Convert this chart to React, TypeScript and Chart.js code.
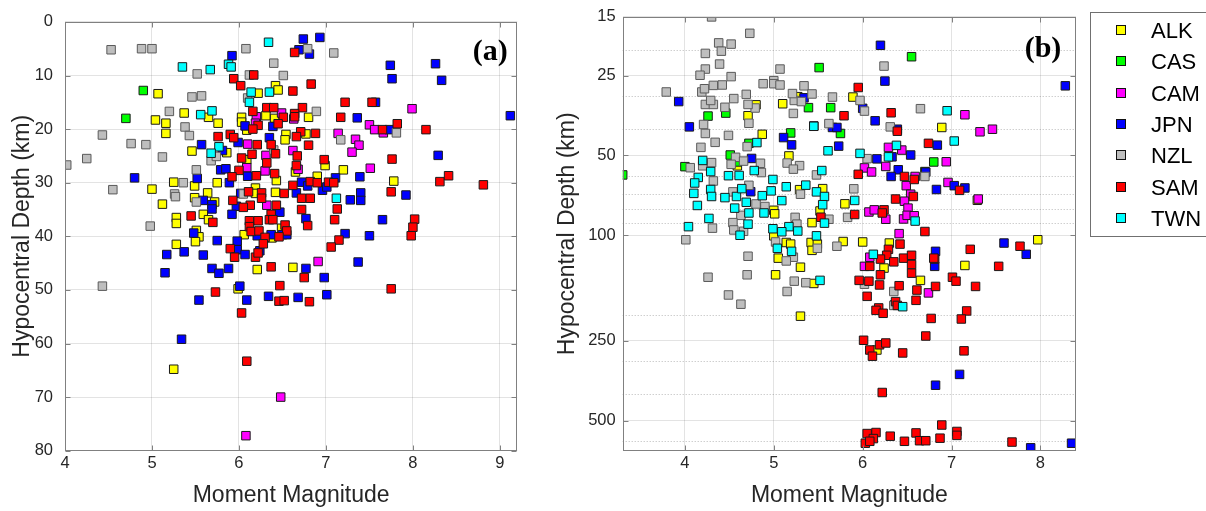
import React, { useEffect, useRef } from "react";
import { Chart, registerables } from "chart.js";

Chart.register(...registerables);

// ---------- categories & style ----------
const REGIONS = ["ALK", "CAS", "CAM", "JPN", "NZL", "SAM", "TWN"];
const FILL = ["#ffff00", "#00ff00", "#ff00ff", "#0000ff", "#bebebe", "#ff0000", "#00ffff"];
const EDGE = ["#1a1a1a", "#1a1a1a", "#1a1a1a", "#1a1a1a", "#5a5a5a", "#1a1a1a", "#1a1a1a"];

// ---------- panel (a): [Mw, depth km] ----------
const ALK_A: [number, number][] = [
  [5.07, 13.4], [6.42, 11.9], [6.45, 12.7], [6.22, 13.3], [5.37, 17.0], [5.04, 18.3], [5.16, 18.9], [5.16, 20.8],
  [5.65, 17.8], [5.76, 18.9], [6.03, 17.8], [6.03, 18.7], [6.31, 17.5], [6.41, 18.0], [6.8, 17.8], [6.54, 21.0],
  [6.53, 22.0], [6.77, 20.9], [5.46, 24.1], [5.86, 24.4], [6.09, 25.7], [5.25, 29.9], [5.49, 30.6], [5.75, 30.0],
  [6.43, 29.6], [5.0, 31.2], [5.64, 31.9], [5.49, 32.8], [6.19, 31.0], [6.19, 32.0], [6.42, 31.8], [5.12, 34.0],
  [5.72, 33.6], [5.28, 36.5], [5.28, 37.6], [5.59, 35.9], [5.65, 36.9], [5.51, 38.9], [5.54, 40.1], [5.5, 41.0],
  [6.06, 39.7], [5.28, 41.5], [6.38, 40.3], [6.49, 38.5], [6.21, 46.2], [6.62, 45.8], [5.99, 49.8], [5.25, 64.8],
  [6.9, 28.8], [6.99, 26.8], [7.2, 27.6], [7.78, 29.7], [6.65, 28.0], [6.09, 20.2],
];
const CAS_A: [number, number][] = [[4.9, 12.8], [4.7, 18.0]];
const CAM_A: [number, number][] = [
  [6.49, 17.0], [6.2, 17.7], [6.19, 18.9], [6.1, 22.8], [6.31, 24.9], [6.09, 27.2], [6.3, 27.8], [6.68, 27.5],
  [6.62, 24.0], [6.32, 34.2], [6.63, 18.1], [7.14, 20.8], [7.34, 21.9], [7.38, 23.0], [7.3, 24.3], [7.51, 27.3],
  [7.5, 19.2], [7.56, 20.1], [7.66, 20.7], [7.99, 16.2], [6.91, 44.7], [6.48, 70.0], [6.08, 77.2],
];
const JPN_A: [number, number][] = [
  [6.74, 3.2], [6.93, 2.9], [6.69, 5.2], [6.81, 6.0], [5.92, 6.3], [7.74, 8.1], [8.26, 7.8], [7.76, 10.6],
  [8.33, 10.9], [7.57, 15.0], [9.12, 17.5], [7.36, 17.9], [7.73, 20.1], [6.07, 19.4], [6.39, 19.5], [5.99, 22.5],
  [5.57, 22.9], [6.35, 21.6], [5.81, 24.0], [8.29, 24.9], [4.8, 29.1], [5.52, 29.2], [5.79, 27.6], [5.85, 27.4],
  [5.89, 30.0], [6.1, 28.8], [6.02, 32.0], [5.59, 33.3], [5.69, 34.1], [5.69, 34.9], [5.97, 34.4], [5.92, 35.9],
  [6.47, 35.5], [6.72, 29.9], [6.79, 30.6], [6.96, 31.4], [7.01, 30.8], [7.11, 29.1], [6.66, 31.9], [7.28, 33.2],
  [7.4, 31.9], [7.4, 33.3], [7.39, 28.9], [7.92, 32.3], [7.65, 36.9], [6.77, 36.7], [5.48, 39.4], [5.75, 40.8],
  [5.98, 40.9], [5.98, 42.5], [6.07, 43.4], [6.21, 39.9], [6.37, 39.7], [6.5, 39.7], [6.55, 39.7], [7.22, 39.5],
  [7.5, 39.9], [7.37, 44.8], [5.17, 43.4], [5.37, 42.9], [5.59, 43.5], [5.15, 46.8], [5.69, 46.0], [5.77, 46.9],
  [5.88, 46.0], [6.77, 46.0], [6.98, 47.7], [6.01, 49.3], [5.54, 51.9], [6.09, 51.9], [6.34, 51.2], [6.68, 51.4],
  [7.01, 50.9], [5.34, 59.2], [6.24, 42.7],
];
const NZL_A: [number, number][] = [
  [4.53, 5.2], [4.88, 5.0], [5.0, 5.0], [6.08, 5.0], [6.79, 5.0], [7.09, 5.8], [6.4, 7.7], [5.52, 9.7],
  [6.12, 9.9], [6.51, 10.0], [5.46, 14.0], [5.57, 13.8], [6.1, 14.2], [5.2, 16.7], [6.89, 16.7], [5.38, 19.6],
  [5.43, 21.2], [4.43, 21.1], [4.76, 22.7], [4.93, 22.9], [7.17, 22.0], [7.81, 20.7], [4.25, 25.5], [5.12, 25.2],
  [4.02, 26.7], [5.68, 25.9], [5.74, 25.1], [5.51, 27.6], [5.36, 30.0], [4.55, 31.3], [5.26, 32.1], [5.27, 32.6],
  [5.51, 33.6], [6.05, 32.1], [4.98, 38.1], [4.43, 49.3], [6.4, 23.9],
];
const SAM_A: [number, number][] = [
  [6.64, 5.7], [5.94, 10.6], [6.02, 11.9], [6.17, 9.9], [6.62, 12.9], [6.83, 11.6], [7.22, 15.0], [7.53, 15.0],
  [6.32, 16.0], [6.4, 16.0], [6.73, 16.0], [6.16, 16.7], [6.51, 17.8], [6.64, 17.1], [6.64, 17.7], [7.17, 17.8],
  [6.22, 19.3], [6.45, 19.0], [6.16, 20.0], [7.65, 20.1], [7.82, 19.0], [8.15, 20.1], [5.76, 21.4], [5.9, 21.0],
  [5.94, 21.6], [6.21, 22.9], [6.37, 22.9], [6.71, 20.5], [6.66, 21.4], [6.88, 20.8], [6.8, 23.0], [6.42, 24.6],
  [6.15, 24.7], [6.67, 25.0], [6.03, 25.4], [6.32, 26.3], [6.66, 26.8], [6.98, 25.7], [7.76, 25.6], [6.41, 28.3],
  [6.0, 27.7], [5.92, 28.9], [6.2, 28.7], [6.62, 30.5], [6.82, 29.8], [6.9, 30.0], [7.03, 29.9], [7.09, 30.0],
  [8.31, 29.8], [8.41, 28.7], [8.81, 30.4], [7.75, 31.7], [5.93, 33.3], [6.11, 31.7], [6.26, 31.9], [6.52, 32.0],
  [6.26, 32.9], [6.13, 34.2], [6.05, 34.6], [6.43, 34.2], [6.72, 32.9], [6.82, 32.9], [6.72, 35.0], [7.13, 34.9],
  [5.45, 36.2], [5.7, 37.4], [6.12, 37.1], [6.22, 37.1], [6.37, 35.9], [6.35, 36.9], [6.39, 36.9], [6.12, 38.2],
  [6.14, 39.1], [6.23, 39.0], [6.53, 37.9], [6.55, 39.0], [6.79, 38.0], [7.1, 36.9], [8.02, 36.8], [8.0, 38.3],
  [7.98, 39.9], [6.3, 40.2], [6.28, 41.4], [6.46, 40.1], [7.15, 40.7], [7.06, 42.0], [5.9, 42.3], [5.95, 43.9],
  [6.19, 43.9], [6.22, 43.1], [6.37, 45.7], [6.75, 47.7], [7.75, 49.8], [5.73, 50.4], [6.47, 49.2], [6.46, 52.1],
  [6.52, 52.0], [6.81, 52.2], [6.03, 54.3], [6.09, 63.3],
];
const TWN_A: [number, number][] = [
  [6.34, 3.8], [5.35, 8.4], [5.67, 8.9], [5.88, 7.9], [5.91, 8.4], [6.14, 13.1], [6.35, 13.1], [6.12, 15.0],
  [5.69, 16.6], [5.56, 17.3], [5.77, 23.3], [5.68, 24.5], [7.12, 32.9],
];

// ---------- panel (b): [Mw, depth km] ----------
const ALK_B: [number, number][] = [
  [5.1, 31.9], [5.27, 30.0], [5.89, 30.1], [4.71, 35.4], [4.8, 32.2], [4.87, 41.6], [6.89, 39.2], [5.17, 50.2],
  [4.59, 54.7], [5.29, 67.3], [5.55, 66.7], [5.8, 76.1], [5.52, 81], [5.0, 80.5], [5.01, 83], [5.43, 89.6],
  [7.29, 73.8], [5.0, 100.5], [5.14, 106.5], [5.19, 108], [5.42, 106.5], [5.49, 108], [5.43, 114], [5.05, 122],
  [5.78, 105.6], [6.0, 106], [6.3, 107], [5.3, 132], [7.15, 130], [7.97, 104], [5.02, 141], [5.45, 152],
  [6.65, 148], [5.3, 202], [6.24, 133], [6.16, 271],
];
const CAS_B: [number, number][] = [
  [5.51, 23.3], [6.55, 21.2], [5.39, 33.0], [5.64, 33.0], [4.46, 34.6], [4.26, 35.5], [5.19, 41.1], [5.75, 41.3],
  [4.72, 45.0], [4.51, 49.8], [4.0, 55.1], [3.3, 59.2], [4.59, 52.9], [6.8, 52.9], [6.7, 57.5],
];
const CAM_B: [number, number][] = [
  [7.15, 35.1], [7.32, 40.7], [7.46, 39.8], [6.29, 46.6], [6.44, 47.7], [6.02, 55.7], [6.1, 57.7], [6.26, 55.0],
  [6.94, 52.8], [6.59, 60.0], [6.49, 65.0], [6.96, 63.2], [6.54, 70.0], [6.47, 74.4], [7.3, 73.0], [6.07, 81.7],
  [6.13, 80.2], [6.51, 79.0], [6.26, 87], [6.46, 86.8], [6.5, 84.1], [6.58, 84.4], [6.41, 98.6], [6.08, 121],
  [6.02, 131], [6.74, 165], [6.36, 183],
];
const JPN_B: [number, number][] = [
  [6.2, 19.2], [6.25, 26.2], [8.28, 27.3], [3.93, 31.3], [5.34, 30.3], [6.0, 33.2], [6.14, 37.0], [4.05, 39.0],
  [5.45, 38.7], [5.66, 39.2], [5.71, 39.2], [5.11, 42.8], [5.2, 45.6], [5.73, 46.1], [6.39, 39.8], [6.84, 45.7],
  [6.54, 49.8], [6.16, 51.5], [6.33, 50.6], [4.75, 51.3], [6.4, 56.6], [6.32, 60.0], [6.71, 57.8], [6.83, 67.2],
  [7.03, 65.0], [7.15, 66.3], [4.74, 68.5], [7.59, 107], [7.84, 118], [6.82, 115], [6.81, 131], [7.09, 335],
  [6.82, 368], [7.89, 634], [8.35, 609],
];
const NZL_B: [number, number][] = [
  [4.3, 15.0], [4.73, 17.3], [4.38, 18.8], [4.52, 19.0], [4.23, 20.6], [4.41, 20.2], [4.39, 22.6], [4.23, 23.6],
  [4.17, 24.9], [4.52, 25.2], [5.07, 23.6], [6.24, 23.0], [3.79, 28.8], [4.19, 28.8], [4.22, 28.0], [4.32, 27.2],
  [4.42, 27.1], [4.88, 26.8], [5.0, 26.1], [5.0, 26.8], [5.07, 27.1], [5.34, 27.3], [5.43, 29.3], [5.66, 30.1],
  [5.23, 31.0], [5.31, 31.3], [5.21, 29.2], [4.69, 29.4], [4.55, 30.5], [4.23, 32.1], [4.32, 32.1], [4.29, 31.0],
  [4.45, 32.9], [4.79, 33.1], [4.71, 32.1], [5.22, 34.7], [5.97, 31.0], [6.02, 34.0], [6.65, 33.3], [4.21, 38.2],
  [4.23, 41.3], [4.49, 42.0], [4.34, 44.6], [4.18, 46.6], [4.72, 37.8], [4.7, 46.3], [5.62, 37.9], [6.31, 39.0],
  [6.05, 51.4], [5.15, 53.4], [5.29, 54.6], [5.22, 56.3], [4.57, 50.8], [4.52, 54.0], [4.3, 53.2], [4.2, 54.7],
  [4.06, 55.6], [4.85, 53.5], [4.86, 58.0], [4.66, 52.5], [5.48, 59.2], [4.32, 62.4], [4.72, 64.8], [4.54, 68.6],
  [5.9, 66.8], [5.3, 70.0], [4.8, 76.2], [4.9, 77.9], [4.63, 84.1], [4.54, 89.6], [5.24, 85.6], [5.26, 90.8],
  [5.83, 85.6], [5.62, 87], [4.31, 94], [4.55, 95.5], [4.66, 96.6], [4.01, 104], [5.02, 106], [5.22, 121],
  [5.14, 125], [4.71, 120], [5.49, 112], [5.71, 110], [4.26, 144], [4.7, 141], [5.23, 149], [5.36, 151],
  [5.15, 163], [4.49, 168], [4.63, 182], [6.02, 153], [6.35, 163], [6.35, 184], [6.7, 60.0],
];
const SAM_B: [number, number][] = [
  [5.95, 27.7], [5.79, 35.4], [6.32, 34.5], [6.39, 40.5], [6.74, 45.0], [5.95, 58.9], [6.47, 60.0], [6.58, 61.6],
  [7.09, 67.7], [6.37, 73.0], [6.57, 71.4], [6.24, 80.2], [6.22, 82.4], [5.91, 83.5], [5.53, 85.5], [6.7, 96.8],
  [6.42, 108], [7.21, 113], [7.77, 110], [7.53, 131], [6.29, 113], [6.27, 119], [6.2, 123], [6.35, 126],
  [6.46, 122], [6.55, 119], [6.55, 129], [6.55, 139], [6.81, 123], [7.01, 144], [7.05, 149], [7.27, 156],
  [6.08, 131], [5.96, 148], [6.07, 149], [6.19, 154], [6.2, 141], [6.41, 155], [6.61, 161], [6.6, 176],
  [6.82, 156], [6.05, 170], [6.37, 178], [6.39, 184], [6.18, 188], [6.15, 192], [6.23, 197], [6.77, 206],
  [7.17, 193], [7.11, 207], [6.71, 240], [6.01, 249], [6.08, 271], [6.11, 286], [6.19, 259], [6.26, 255],
  [6.45, 278], [7.14, 273], [6.22, 392], [6.89, 520], [6.05, 560], [6.15, 555], [6.12, 585], [6.03, 609],
  [6.08, 599], [6.31, 573], [6.47, 599], [6.6, 557], [6.64, 596], [6.71, 596], [6.87, 583], [7.06, 550],
  [7.06, 569], [7.68, 603], [6.8, 122],
];
const TWN_B: [number, number][] = [
  [6.95, 33.9], [7.03, 44.1], [6.38, 45.8], [6.29, 50.6], [5.97, 49.1], [5.61, 48.0], [5.45, 38.8], [5.54, 57],
  [4.99, 61.6], [5.14, 65.6], [5.36, 64.7], [5.48, 68.6], [5.57, 71.4], [5.55, 76.7], [4.97, 68], [5.09, 74],
  [5.91, 73.9], [5.57, 90], [5.17, 92.8], [5.27, 96.4], [5.09, 97], [4.99, 94.5], [5.48, 100.5], [5.04, 112],
  [5.2, 115], [5.52, 148], [6.12, 118], [6.45, 186], [6.59, 88.4], [4.81, 44.7], [4.2, 52.2], [4.29, 57.5],
  [4.49, 59.6], [4.61, 59.5], [4.78, 57], [4.15, 60.5], [4.11, 63.5], [4.1, 69.5], [4.29, 67.2], [4.3, 71.4],
  [4.14, 77.2], [4.45, 72.1], [4.58, 71.4], [4.56, 79], [4.69, 75.1], [4.87, 70.9], [4.89, 82.4], [4.72, 82.4],
  [4.64, 66.7], [4.27, 86.4], [4.04, 92.8], [4.62, 100], [4.71, 90.8],
];

const PANEL_A = [ALK_A, CAS_A, CAM_A, JPN_A, NZL_A, SAM_A, TWN_A];
const PANEL_B = [ALK_B, CAS_B, CAM_B, JPN_B, NZL_B, SAM_B, TWN_B];

// ---------- axes ----------
const X_TICKS_A = [4, 5, 6, 7, 8, 9];
const Y_TICKS_A = [0, 10, 20, 30, 40, 50, 60, 70, 80];
const X_TICKS_B = [4, 5, 6, 7, 8];
const Y_TICKS_B = [15, 25, 50, 100, 250, 500];
const Y_MINOR_B = [20, 30, 40, 60, 70, 80, 90, 200, 300, 400, 600];
const X_TITLE = "Moment Magnitude";
const Y_TITLE = "Hypocentral Depth (km)";

const FONT = '"Liberation Sans", Arial, Helvetica, sans-serif';
const TEXT = "#262626";
const AXIS = "#808080";
const GRID = "rgba(0,0,0,0.11)";

function makeDatasets(series: [number, number][][]) {
  return series.map((pts, i) => ({
    label: REGIONS[i],
    data: pts.map(([x, y]) => ({ x, y })),
    pointStyle: "rect",
    pointRadius: 6,
    pointBorderWidth: 1,
    backgroundColor: FILL[i],
    borderColor: EDGE[i],
    borderWidth: 1,
    showLine: false,
    order: REGIONS.length - i,
  }));
}

const framePlugin = {
  id: "frame",
  afterDraw(chart: any, _args: any, opts: any) {
    const { ctx, chartArea: a } = chart;
    const xs = chart.scales.x;
    const ys = chart.scales.y;
    ctx.save();
    ctx.strokeStyle = AXIS;
    ctx.lineWidth = 1;
    const L = Math.round(a.left) + 0.5;
    const R = Math.round(a.right) - 0.5;
    const T = Math.round(a.top) + 0.5;
    const B = Math.round(a.bottom) - 0.5;
    ctx.strokeRect(L, T, R - L, B - T);
    const tl = 5;
    ctx.beginPath();
    xs.ticks.forEach((t: any) => {
      const p = Math.round(xs.getPixelForValue(t.value)) + 0.5;
      ctx.moveTo(p, B);
      ctx.lineTo(p, B - tl);
      ctx.moveTo(p, T);
      ctx.lineTo(p, T + tl);
    });
    ys.ticks.forEach((t: any) => {
      const p = Math.round(ys.getPixelForValue(t.value)) + 0.5;
      ctx.moveTo(L, p);
      ctx.lineTo(L + tl, p);
      ctx.moveTo(R, p);
      ctx.lineTo(R - tl, p);
    });
    ctx.stroke();
    if (opts && opts.label) {
      ctx.fillStyle = "#000";
      ctx.font = 'bold 30px "Liberation Serif", "Times New Roman", serif';
      ctx.textAlign = "center";
      ctx.textBaseline = "middle";
      ctx.fillText(opts.label, a.right - opts.dx, a.top + opts.dy);
    }
    ctx.restore();
  },
};

const legendPlugin = {
  id: "boxLegend",
  afterDraw(chart: any, _args: any, opts: any) {
    if (!opts || !opts.show) return;
    const { ctx } = chart;
    const { left, top, bottom, markX, textX, firstY, step } = opts;
    ctx.save();
    ctx.fillStyle = "#ffffff";
    ctx.fillRect(left, top, chart.width - left + 2, bottom - top);
    ctx.strokeStyle = "#707070";
    ctx.lineWidth = 1;
    ctx.strokeRect(left + 0.5, top + 0.5, chart.width, bottom - top);
    ctx.font = `22px ${FONT}`;
    ctx.textBaseline = "middle";
    ctx.textAlign = "left";
    chart.data.datasets.forEach((ds: any, i: number) => {
      const cy = Math.round(firstY + i * step);
      ctx.fillStyle = ds.backgroundColor;
      ctx.fillRect(markX - 4, cy - 4, 8, 8);
      ctx.strokeStyle = "#111";
      ctx.strokeRect(markX - 4.5, cy - 4.5, 9, 9);
      ctx.fillStyle = "#000";
      ctx.fillText(ds.label, textX, cy + 1.5);
    });
    ctx.restore();
  },
};

function tickFont() {
  return { size: 16.5, family: FONT };
}
function titleFont() {
  return { size: 23, family: FONT };
}

function configA(): any {
  return {
    type: "scatter",
    data: { datasets: makeDatasets(PANEL_A) },
    plugins: [framePlugin],
    options: {
      responsive: false,
      animation: false,
      events: [],
      layout: { padding: { left: 0, top: 12.3, right: 22.7, bottom: 0 } },
      plugins: {
        legend: { display: false },
        tooltip: { enabled: false },
        frame: { label: "(a)", dx: 27, dy: 30 },
      },
      scales: {
        x: {
          type: "linear",
          min: 4,
          max: 9.2,
          afterBuildTicks: (s: any) => {
            s.ticks = X_TICKS_A.map((v) => ({ value: v }));
          },
          afterFit: (s: any) => {
            s.height = 60.3;
          },
          ticks: { padding: 3, color: TEXT, font: tickFont(), autoSkip: false, maxRotation: 0, callback: (v: any) => String(v) },
          grid: { color: GRID, lineWidth: 1, drawTicks: false },
          border: { display: false },
          title: { display: true, text: X_TITLE, color: TEXT, font: titleFont(), padding: { top: 0, bottom: 2 } },
        },
        y: {
          type: "linear",
          reverse: true,
          min: 0,
          max: 80,
          afterBuildTicks: (s: any) => {
            s.ticks = Y_TICKS_A.map((v) => ({ value: v }));
          },
          afterFit: (s: any) => {
            s.width = 65;
          },
          ticks: { padding: 12, color: TEXT, font: tickFont(), autoSkip: false, callback: (v: any) => String(v) },
          grid: { color: GRID, lineWidth: 1, drawTicks: false },
          border: { display: false },
          title: { display: true, text: Y_TITLE, color: TEXT, font: titleFont(), padding: { top: 9, bottom: 0 } },
        },
      },
    },
  };
}

function configB(): any {
  return {
    type: "scatter",
    data: { datasets: makeDatasets(PANEL_B) },
    plugins: [framePlugin, legendPlugin],
    options: {
      responsive: false,
      animation: false,
      events: [],
      layout: { padding: { left: 0, top: 12.3, right: 130, bottom: 0 } },
      plugins: {
        legend: { display: false },
        tooltip: { enabled: false },
        frame: { label: "(b)", dx: 33, dy: 32 },
        boxLegend: { show: true, left: 550, top: 12, bottom: 236, markX: 581, textX: 611, firstY: 30, step: 31.3 },
      },
      scales: {
        x: {
          type: "linear",
          min: 3.3,
          max: 8.4,
          afterBuildTicks: (s: any) => {
            s.ticks = X_TICKS_B.map((v) => ({ value: v }));
          },
          afterFit: (s: any) => {
            s.height = 60.3;
          },
          ticks: { padding: 3, color: TEXT, font: tickFont(), autoSkip: false, maxRotation: 0, callback: (v: any) => String(v) },
          grid: { color: GRID, lineWidth: 1, drawTicks: false },
          border: { display: false },
          title: { display: true, text: X_TITLE, color: TEXT, font: titleFont(), padding: { top: 0, bottom: 2 } },
        },
        y: {
          type: "logarithmic",
          reverse: true,
          min: 15,
          max: 650,
          afterBuildTicks: (s: any) => {
            s.ticks = Y_TICKS_B.map((v) => ({ value: v }));
          },
          afterFit: (s: any) => {
            s.width = 82.7;
          },
          ticks: { padding: 7, color: TEXT, font: tickFont(), autoSkip: false, callback: (v: any) => String(v) },
          grid: { color: GRID, lineWidth: 1, drawTicks: false },
          border: { display: false },
          title: { display: true, text: Y_TITLE, color: TEXT, font: titleFont(), padding: { top: 14, bottom: 0 } },
        },
        yMinor: {
          type: "logarithmic",
          position: "right",
          reverse: true,
          min: 15,
          max: 650,
          afterBuildTicks: (s: any) => {
            s.ticks = Y_MINOR_B.map((v) => ({ value: v }));
          },
          afterFit: (s: any) => {
            s.width = 0;
          },
          ticks: { display: false },
          grid: { color: "rgba(0,0,0,0.28)", lineWidth: 1, drawTicks: false },
          border: { display: false, dash: [1, 2] },
          title: { display: false },
        },
      },
    },
  };
}

export default function App() {
  const refA = useRef<HTMLCanvasElement | null>(null);
  const refB = useRef<HTMLCanvasElement | null>(null);

  useEffect(() => {
    if (!refA.current || !refB.current) return;
    const a = new Chart(refA.current, configA());
    const b = new Chart(refB.current, configB());
    return () => {
      a.destroy();
      b.destroy();
    };
  }, []);

  return (
    <div style={{ position: "fixed", left: 0, top: 0, width: 1206, height: 511, background: "#ffffff", overflow: "hidden" }}>
      <canvas ref={refA} width={540} height={511} style={{ position: "absolute", left: 0, top: 0 }} />
      <canvas ref={refB} width={666} height={511} style={{ position: "absolute", left: 540, top: 0 }} />
    </div>
  );
}
